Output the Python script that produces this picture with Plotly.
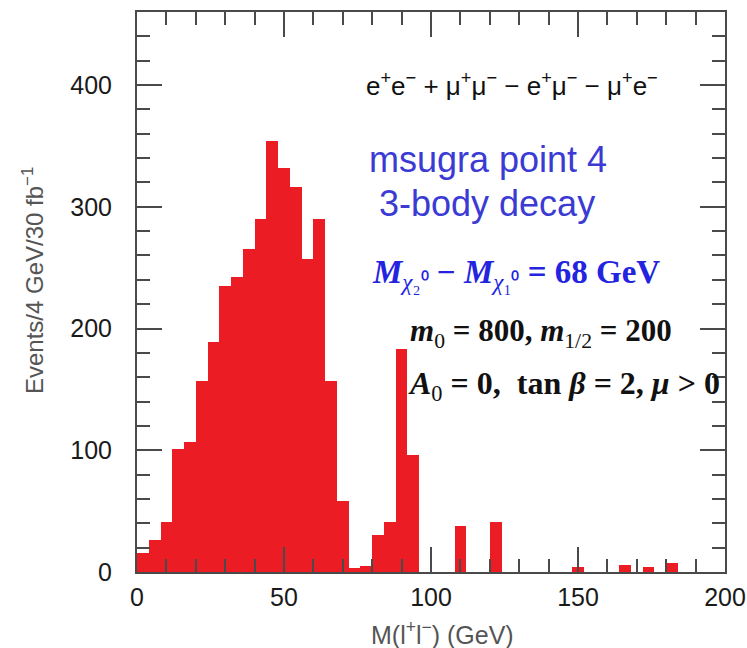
import plotly.graph_objects as go

# ---- data ----
bin_width = 4  # GeV
bin_low = [0, 4, 8, 12, 16, 20, 24, 28, 32, 36, 40, 44, 48, 52, 56, 60, 64, 68,
           72, 76, 80, 84, 88, 92, 108, 120, 148, 164, 172, 180]
events = [16, 26, 41, 101, 107, 157, 189, 235, 242, 265, 290, 354, 332, 316, 257,
          290, 157, 58, 3, 5, 30, 41, 183, 96, 38, 41, 4, 6, 4, 7]

x_ticks = [0, 50, 100, 150, 200]
y_ticks = [0, 100, 200, 300, 400]

bar_color = "#ec1c24"
frame_color = "#4a4a4a"

centers = [b + bin_width / 2 for b in bin_low]

fig = go.Figure()
fig.add_trace(go.Bar(
    x=centers, y=events, width=bin_width,
    marker=dict(color=bar_color, line=dict(width=0)),
    showlegend=False, hoverinfo="x+y",
))

W, H = 747, 648
L, R, T, B = 137, 22, 12, 76
pw, ph = W - L - R, H - T - B


def px(x):
    return (x - L) / pw


def py(y):
    return (H - B - y) / ph


sans = "Liberation Sans, Arial, sans-serif"
serif = "Liberation Serif, Times New Roman, serif"

axis_common = dict(
    showline=True, linecolor=frame_color, linewidth=2, mirror="allticks",
    ticks="inside", ticklen=25, tickwidth=2, tickcolor=frame_color,
    showgrid=False, zeroline=False,
    tickfont=dict(family=sans, size=25, color="#1a1a1a"),
)

fig.update_xaxes(range=[0, 200], tickvals=x_ticks, ticktext=[str(v) for v in x_ticks],
                 minor=dict(dtick=10, tick0=0, ticks="inside", ticklen=13, tickwidth=2,
                            tickcolor=frame_color, showgrid=False),
                 ticklabelstandoff=2, **axis_common)
fig.update_yaxes(range=[0, 460], tickvals=y_ticks, ticktext=[str(v) for v in y_ticks],
                 minor=dict(dtick=20, tick0=0, ticks="inside", ticklen=13, tickwidth=2,
                            tickcolor=frame_color, showgrid=False),
                 ticklabelstandoff=18, **axis_common)

blue1 = "#3b3bd4"
blue2 = "#2323e0"

annotations = [
    dict(text="e<sup>+</sup>e<sup>−</sup> + μ<sup>+</sup>μ<sup>−</sup> − e<sup>+</sup>μ<sup>−</sup> − μ<sup>+</sup>e<sup>−</sup>",
         x=px(364), y=py(84), xanchor="left", yanchor="middle",
         font=dict(family=sans, size=26, color="#111111")),
    dict(text="msugra point 4", x=px(367), y=py(160), xanchor="left", yanchor="middle",
         font=dict(family=sans, size=36, color=blue1)),
    dict(text="3-body decay", x=px(377), y=py(203), xanchor="left", yanchor="middle",
         font=dict(family=sans, size=36, color=blue1)),
    dict(text="<b><i>M</i></b><sub><i>χ</i>₂⁰</sub> <b>− <i>M</i></b><sub><i>χ</i>₁⁰</sub> <b>= 68 GeV</b>",
         x=px(370), y=py(274), xanchor="left", yanchor="middle",
         font=dict(family=serif, size=33, color=blue2)),
    dict(text="<b><i>m</i></b><sub>0</sub><b> = 800, <i>m</i></b><sub>1/2</sub><b> = 200</b>",
         x=px(408), y=py(333), xanchor="left", yanchor="middle",
         font=dict(family=serif, size=31, color="#111111")),
    dict(text="<b><i>A</i></b><sub>0</sub><b> = 0,  tan <i>β</i> = 2, <i>μ</i> > 0</b>",
         x=px(406), y=py(385), xanchor="left", yanchor="middle",
         font=dict(family=serif, size=32, color="#111111")),
    dict(text="Events/4 GeV/30 fb<sup>−1</sup>", textangle=-90,
         x=px(33), y=py(281), xanchor="center", yanchor="middle",
         font=dict(family=sans, size=24, color="#555555")),
    dict(text="M(l<sup>+</sup>l<sup>−</sup>) (GeV)",
         x=px(442), y=py(633), xanchor="center", yanchor="middle",
         font=dict(family=sans, size=25, color="#555555")),
]
for a in annotations:
    a.update(xref="paper", yref="paper", showarrow=False)

fig.update_layout(
    width=W, height=H,
    margin=dict(l=L, r=R, t=T, b=B, autoexpand=False),
    paper_bgcolor="white", plot_bgcolor="white",
    bargap=0, annotations=annotations,
)

fig.write_html("out.html")
